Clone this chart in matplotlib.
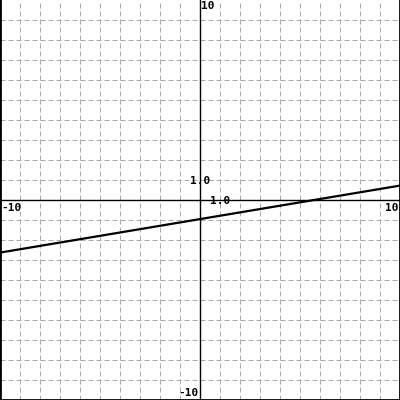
import matplotlib
matplotlib.use("Agg")
import matplotlib.pyplot as plt
import numpy as np

x_range = [-10, 10]
y_range = [-10, 10]
line_x = [-10, 10]
line_y = [-2.63, 0.72]
grid_ticks = list(range(-9, 10))

fig = plt.figure(figsize=(4, 4), dpi=100)
ax = fig.add_axes([0, 0, 1, 1])
ax.set_xlim(*x_range)
ax.set_ylim(*y_range)
for s in ax.spines.values():
    s.set_visible(False)
ax.set_xticks([])
ax.set_yticks([])

px = 0.72  # one pixel in points
for t in grid_ticks:
    if t == 0:
        continue
    ax.axvline(t, color="#aaaaaa", lw=px, ls=(0, (5, 3)), zorder=1, snap=True)
    ax.axhline(t, color="#aaaaaa", lw=px, ls=(0, (5, 3)), zorder=1, snap=True)

ax.axhline(0, color="black", lw=1.0, zorder=2, snap=True)
ax.axvline(0, color="black", lw=1.0, zorder=2, snap=True)

# frame on left, right and bottom
ax.plot([-10, -10], [-10, 10], color="black", lw=2, clip_on=False, zorder=3)
ax.plot([10, 10], [-10, 10], color="black", lw=2, clip_on=False, zorder=3)
ax.plot([-10, 10], [-10, -10], color="black", lw=2, clip_on=False, zorder=3)

ax.plot(line_x, line_y, color="black", lw=1.6, zorder=4)

fp = dict(family="DejaVu Sans Mono", fontweight="bold", fontsize=8, color="black", zorder=5)
ax.text(0.05, 9.95, "10", ha="left", va="top", **fp)
ax.text(-0.05, -9.9, "-10", ha="right", va="bottom", **fp)
ax.text(-9.95, -0.15, "-10", ha="left", va="top", **fp)
ax.text(9.9, -0.15, "10", ha="right", va="top", **fp)
ax.text(0.0, 0.95, "1.0", ha="center", va="center", **fp)
ax.text(1.0, -0.07, "1.0", ha="center", va="center", **fp)

fig.savefig("out.png", dpi=100)
